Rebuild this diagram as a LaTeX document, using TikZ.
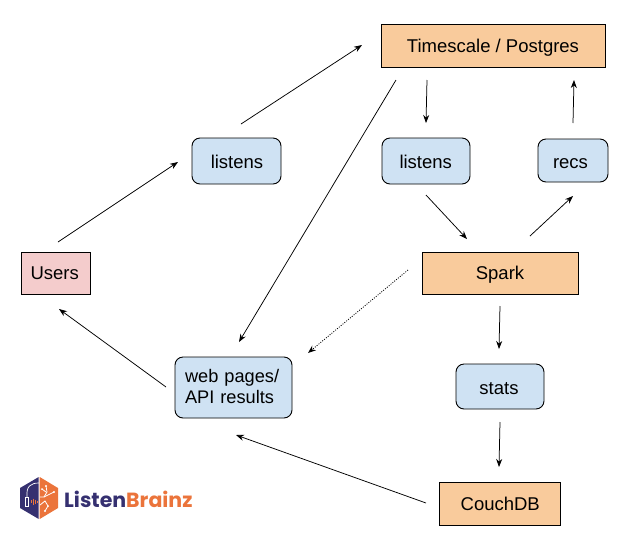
\documentclass[tikz,border=0pt]{standalone}
\usepackage{fontspec}
\setmainfont{Liberation Sans}
\newfontfamily\logofont{Poppins}
\usetikzlibrary{arrows.meta}
\definecolor{orangebox}{HTML}{F9CB9C}
\definecolor{bluebox}{HTML}{CFE2F3}
\definecolor{pinkbox}{HTML}{F4CCCC}
\definecolor{lbnavy}{HTML}{353070}
\definecolor{lborange}{HTML}{EB743B}
\tikzset{
  x=1pt,y=-1pt,
  base/.style={draw=black,line width=0.9pt,inner sep=0pt,outer sep=0pt,font=\fontsize{18.5}{21.5}\selectfont,anchor=center,text height=15pt,text depth=2pt},
  squarebox/.style={base,fill=orangebox},
  roundbox/.style={base,fill=bluebox,rounded corners=8pt},
  userbox/.style={base,fill=pinkbox},
  arr/.style={line width=0.75pt,-{Stealth[length=8pt,width=6pt]}},
  dotarr/.style={line width=0.8pt,dash pattern=on 1pt off 1.4pt,-{Stealth[length=8pt,width=6pt]}},
  circuit/.style={white,line width=0.8pt},
}
\newcommand{\boxnode}[7]{\node[#1,minimum width=#5pt-#4pt,minimum height=#7pt-#6pt] (#2) at ({(#4+#5)/2},{(#6+#7)/2}) {#3};}
\begin{document}
\begin{tikzpicture}
\useasboundingbox (0,0) rectangle (630,550);
\fill[white] (0,0) rectangle (630,550);
\boxnode{squarebox}{tsdb}{Timescale / Postgres}{381}{605}{24}{67}
\boxnode{roundbox,text height=16.5pt}{listensa}{\hspace{1pt}listens}{192}{281}{138}{184}
\boxnode{roundbox,text height=16.5pt}{listensb}{listens\kern0.5pt}{382}{470}{138}{184}
\boxnode{roundbox,text height=17pt}{recs}{recs\kern5pt}{538}{608}{139}{182}
\boxnode{userbox}{users}{Users\kern1.5pt}{21}{90}{252}{294}
\boxnode{squarebox}{spark}{Spark}{422}{578}{252}{294}
\boxnode{roundbox,text width=97pt,align=left,text height=,text depth=,font=\fontsize{18.2}{21.5}\selectfont}{web}{web pages/\\API results\rule[-2pt]{0pt}{2pt}}{175}{292}{357}{418}
\boxnode{roundbox,text height=18pt}{stats}{stats\kern2pt}{456}{544}{364}{409}
\boxnode{squarebox}{couch}{\hspace{1.5pt}CouchDB}{439}{560}{482}{525}
% connectors, anchored on the named nodes with offsets to leave the reference's gaps
\draw[arr] ([shift={(2.5,-10)}]users.north) -- ([shift={(-14,1)}]listensa.west);
\draw[arr] ([shift={(4.5,-14)}]listensa.north) -- ([shift={(-19,-.5)}]tsdb.west);
\draw[arr] ([shift={(-97,13)}]tsdb.south) -- ([shift={(5.5,-15)}]web.north);
\draw[arr] ([shift={(-66,13)}]tsdb.south) -- ([shift={(0,-15)}]listensb.north);
\draw[arr] ([shift={(0,11)}]listensb.south) -- ([shift={(-33,-13)}]spark.north);
\draw[arr] ([shift={(30,-16)}]spark.north) -- ([shift={(0,14)}]recs.south);
\draw[arr] ([shift={(0,-16)}]recs.north) -- ([shift={(81,13)}]tsdb.south);
\draw[dotarr] ([shift={(-14,-3)}]spark.west) -- ([shift={(16,-34.5)}]web.east);
\draw[arr] ([shift={(0,12)}]spark.south) -- ([shift={(-1,-15)}]stats.north);
\draw[arr] ([shift={(0,13)}]stats.south) -- ([shift={(-.5,-15)}]couch.north);
\draw[arr] ([shift={(-13,-.5)}]couch.west) -- ([shift={(2.5,17)}]web.south);
\draw[arr] ([shift={(-9,-.5)}]web.west) -- ([shift={(3.5,15)}]users.south);
% logo
\fill[lbnavy] (38.7,477) -- (20,488) -- (20,508) -- (38.7,519) -- cycle;
\fill[lborange] (39.7,477) -- (58,488) -- (58,508) -- (39.7,519) -- cycle;
\draw[white,line width=0.7pt] (27,497) .. controls (26,486) and (31,483) .. (39,483);
\draw[white,line width=0.8pt,fill=lbnavy] (25.5,497) rectangle (28.5,506);
\foreach \px/\py in {31/1.5,33/3,35/2,37/1}{\draw[lborange,line width=0.5pt] (\px,501.5-\py) -- (\px,501.5+\py);}
\draw[circuit] (39.7,497) -- (44,497) -- (47,492) -- (46,486);
\draw[circuit] (44,497) -- (52,493) -- (54,492);
\draw[circuit] (40,505) -- (45,501) -- (48,506) -- (45,511);
\draw[circuit] (42,489) -- (46,492);
\fill[white] (46,486) circle (1.1) (54,492) circle (1.1) (45,511) circle (1.1) (48,506) circle (1) (42,489) circle (1);
\node[inner sep=0pt,anchor=base west,font=\logofont\bfseries\fontsize{20.5}{24}\selectfont] (logo) at (64,507.5) {\textcolor{lbnavy}{Listen}\textcolor{lborange}{Brainz}};
\end{tikzpicture}
\end{document}
